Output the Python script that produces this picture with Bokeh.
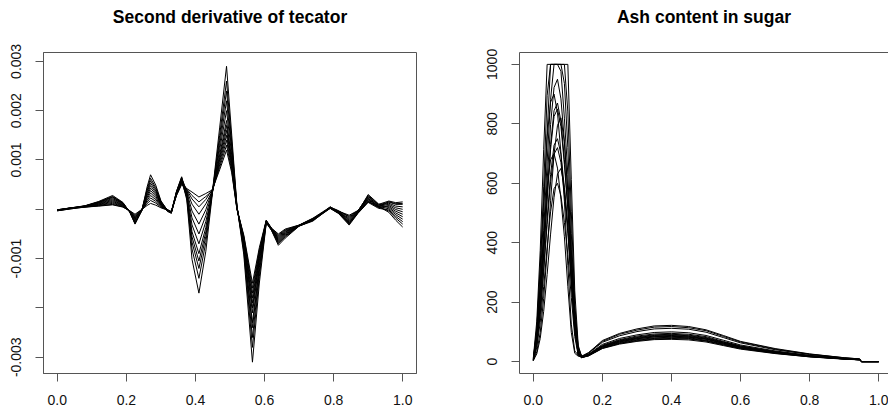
from bokeh.plotting import figure
from bokeh.layouts import row
from bokeh.models import FixedTicker, Range1d, LinearAxis, PrintfTickFormatter, Title
from bokeh.embed import file_html
from bokeh.resources import INLINE

FONT = "Liberation Sans"
BOX = "#555555"

# ---------------- data: second derivative of tecator (values in units of 1e-4) ----------------
tec_title = "Second derivative of tecator"
tec_scale = 1e-4
tec_x = [0.00, 0.04, 0.08, 0.12, 0.16, 0.19, 0.21, 0.225, 0.245, 0.26, 0.27, 0.285, 0.30, 0.32,
         0.33, 0.345, 0.36, 0.375, 0.39, 0.41, 0.43, 0.45, 0.47, 0.49, 0.505, 0.52, 0.54, 0.565,
         0.585, 0.605, 0.62, 0.64, 0.66, 0.70, 0.74, 0.79, 0.815, 0.845, 0.87, 0.90, 0.93, 0.96,
         0.98, 1.00]
tec_c01 = [-0.3, 0.1, 0.44, 0.65, 0.9, 0.45, -0.33, -1.2, -0.02, 0.78, 1.2, 0.84, 0.3, -0.2, -0.5, 2.75, 5.0, 4.2, 3.5, 2.5, 3.2, 4.0, 9.0, 14.0, 8.3, 0.3, -5.75, -17.0, -8.65, -2.3, -3.84, -5.2, -4.16, -3.22, -1.9, 0.34, -0.4, -1.2, -0.26, 2.2, 0.6, -0.62, -2.22, -3.6]
tec_c02 = [-0.2, 0.2, 0.66, 1.4, 2.4, 1.2, -0.53, -2.5, -0.15, 1.17, 1.8, 1.26, 0.45, -0.1, -0.6, 3.08, 5.6, 4.08, 2.8, 1.5, 2.6, 3.8, 13.0, 22.0, 11.9, 0.5, -7.5, -24.0, -11.8, -2.5, -4.0, -6.0, -4.8, -3.3, -2.1, 0.22, -0.7, -2.8, -0.74, 1.6, 0.4, 0.55, -0.4, -1.0]
tec_c03 = [-0.1, 0.2, 0.51, 0.9, 1.4, 0.7, -0.3, -1.0, 0.0, 1.5, 2.3, 1.61, 0.58, -0.3, -0.4, 2.86, 5.2, 3.96, 2.1, 0.5, 2.0, 4.2, 8.0, 12.0, 7.4, 0.1, -5.25, -15.0, -7.75, -2.2, -3.8, -5.0, -4.0, -3.2, -1.8, 0.46, -0.3, -1.6, -0.38, 2.8, 1.0, 1.68, 1.35, 1.5]
tec_c04 = [-0.2, 0.3, 0.72, 1.6, 2.8, 1.4, -0.59, -2.9, -0.19, 1.82, 2.8, 1.96, 0.7, -0.2, -0.7, 3.41, 6.2, 3.78, 1.05, -1.0, 1.1, 3.9, 11.0, 18.0, 10.1, 0.4, -6.75, -21.0, -10.45, -2.6, -4.16, -6.8, -5.44, -3.38, -2.3, 0.18, -0.9, -3.2, -0.86, 1.4, 0.2, -0.13, -1.45, -2.5]
tec_c05 = [-0.3, 0.1, 0.48, 0.8, 1.2, 0.6, -0.39, -1.6, -0.06, 2.15, 3.3, 2.31, 0.83, -0.4, -0.8, 2.97, 5.4, 3.54, -0.35, -3.0, -0.1, 4.1, 16.5, 29.0, 15.05, 0.8, -9.25, -31.0, -14.95, -2.8, -4.26, -7.3, -5.84, -3.43, -2.2, 0.4, -0.6, -2.0, -0.5, 2.5, 0.8, 1.23, 0.65, 0.5]
tec_c06 = [-0.1, 0.2, 0.6, 1.2, 2.0, 1.0, -0.48, -2.2, -0.12, 2.47, 3.8, 2.66, 0.95, -0.1, -0.5, 3.58, 6.5, 3.3, -1.75, -5.0, -1.3, 4.0, 10.0, 16.0, 9.2, 0.2, -6.25, -19.0, -9.55, -2.4, -3.92, -5.6, -4.48, -3.26, -2.0, 0.28, -0.6, -2.6, -0.68, 1.9, 0.5, -0.35, -1.8, -3.0]
tec_c07 = [-0.2, 0.3, 0.54, 1.0, 1.6, 0.8, -0.36, -1.4, -0.04, 2.8, 4.3, 3.01, 1.08, -0.3, -0.6, 3.19, 5.8, 3.06, -3.15, -7.0, -2.5, 3.7, 12.0, 20.0, 11.0, 0.6, -7.25, -23.0, -11.35, -2.5, -4.08, -6.4, -5.12, -3.34, -2.1, 0.42, -0.4, -1.4, -0.32, 2.6, 0.9, 1.45, 1.0, 1.0]
tec_c08 = [-0.3, 0.2, 0.69, 1.5, 2.6, 1.3, -0.6, -3.0, -0.2, 3.12, 4.8, 3.36, 1.2, -0.2, -0.7, 3.3, 6.0, 2.82, -4.55, -9.0, -3.7, 4.2, 8.5, 13.0, 7.85, 0.0, -5.5, -16.0, -8.2, -2.3, -3.88, -5.4, -4.32, -3.24, -1.9, 0.24, -0.8, -3.0, -0.8, 1.7, 0.4, 0.78, -0.05, -0.5]
tec_c09 = [-0.1, 0.3, 0.45, 0.7, 1.0, 0.5, -0.42, -1.8, -0.08, 3.45, 5.3, 3.71, 1.33, -0.5, -0.6, 3.47, 6.3, 2.64, -5.6, -10.5, -4.6, 3.9, 15.0, 26.0, 13.7, 0.7, -8.5, -28.0, -13.6, -2.7, -4.2, -7.0, -5.6, -3.4, -2.4, 0.36, -0.5, -2.2, -0.56, 2.3, 0.6, 0.1, -1.1, -2.0]
tec_c10 = [-0.2, 0.2, 0.63, 1.3, 2.2, 1.1, -0.54, -2.6, -0.16, 3.77, 5.8, 4.06, 1.45, -0.2, -0.5, 3.03, 5.5, 2.46, -6.65, -12.0, -5.5, 4.1, 10.5, 17.0, 9.65, 0.3, -6.5, -20.0, -10.0, -2.4, -3.96, -5.8, -4.64, -3.28, -2.0, 0.3, -0.5, -1.8, -0.44, 2.0, 0.7, 1.0, 0.3, 0.0]
tec_c11 = [-0.2, 0.3, 0.57, 1.1, 1.8, 0.9, -0.45, -2.0, -0.1, 4.1, 6.3, 4.41, 1.58, -0.3, -0.8, 3.63, 6.6, 2.22, -8.05, -14.0, -6.7, 4.0, 14.0, 24.0, 12.8, 0.5, -8.0, -26.0, -12.7, -2.6, -4.12, -6.6, -5.28, -3.36, -2.2, 0.5, -0.6, -2.4, -0.62, 3.0, 1.1, 0.33, -0.75, -1.5]
tec_c12 = [-0.1, 0.3, 0.68, 1.45, 2.5, 1.25, -0.57, -2.8, -0.18, 4.55, 7.0, 4.9, 1.75, -0.4, -0.7, 3.36, 6.1, 1.86, -10.15, -17.0, -8.5, 3.8, 9.5, 15.0, 8.75, 0.2, -6.0, -18.0, -9.1, -2.4, -4.04, -6.2, -4.96, -3.32, -2.1, 0.2, -0.8, -2.9, -0.77, 1.5, 0.5, 1.54, 1.14, 1.2]
tec_curves = [tec_c01, tec_c02, tec_c03, tec_c04, tec_c05, tec_c06,
              tec_c07, tec_c08, tec_c09, tec_c10, tec_c11, tec_c12]
tec_xticks = [0.0, 0.2, 0.4, 0.6, 0.8, 1.0]
tec_yticks_labelled = [-0.003, -0.001, 0.001, 0.002, 0.003]
tec_yticks_unlabelled = [-0.002, 0.0]

# ---------------- data: ash content in sugar ----------------
ash_title = "Ash content in sugar"
ash_x = [0.00, 0.01, 0.02, 0.03, 0.04, 0.05, 0.06, 0.07, 0.08, 0.09, 0.10, 0.11, 0.12, 0.13,
         0.14, 0.16, 0.20, 0.25, 0.30, 0.35, 0.40, 0.45, 0.50, 0.55, 0.60, 0.70, 0.80, 0.90,
         0.945, 0.95, 1.00]
ash_c01 = [12, 136, 374, 714, 1000, 1000, 1000, 1000, 1000, 1000, 1000, 612, 238, 55, 16, 24, 55, 74, 86, 93, 95, 92, 84, 68, 53, 34, 20, 10, 7, 0, 0]
ash_c02 = [10, 112, 308, 588, 896, 1000, 1000, 1000, 1000, 1000, 840, 504, 196, 45, 18, 30, 71, 95, 110, 120, 122, 118, 107, 88, 68, 44, 26, 13, 9, 0, 0]
ash_c03 = [8, 96, 264, 504, 768, 1000, 1000, 1000, 1000, 936, 720, 432, 168, 38, 15, 21, 49, 66, 77, 83, 85, 82, 75, 61, 48, 31, 18, 9, 6, 0, 0]
ash_c04 = [7, 84, 231, 441, 672, 882, 1000, 1000, 977, 819, 630, 378, 147, 34, 17, 25, 58, 78, 90, 98, 100, 97, 88, 72, 56, 36, 21, 11, 8, 0, 0]
ash_c05 = [6, 76, 209, 399, 608, 798, 922, 950, 884, 741, 570, 342, 133, 30, 14, 20, 46, 62, 72, 78, 80, 78, 70, 58, 45, 29, 17, 9, 6, 0, 0]
ash_c06 = [8, 108, 324, 540, 756, 873, 900, 837, 702, 540, 324, 126, 36, 22, 15, 28, 65, 87, 101, 110, 112, 109, 99, 81, 63, 40, 24, 12, 8, 0, 0]
ash_c07 = [5, 70, 191, 365, 557, 731, 844, 870, 809, 679, 522, 313, 122, 28, 16, 23, 52, 70, 81, 88, 90, 87, 79, 65, 50, 32, 19, 10, 7, 0, 0]
ash_c08 = [5, 68, 187, 357, 544, 714, 825, 850, 791, 663, 510, 306, 119, 27, 13, 20, 45, 61, 70, 76, 78, 76, 69, 56, 44, 28, 16, 9, 6, 0, 0]
ash_c09 = [5, 33, 98, 213, 369, 541, 697, 795, 820, 738, 574, 361, 164, 49, 17, 22, 51, 69, 79, 86, 88, 85, 77, 63, 49, 32, 18, 10, 7, 0, 0]
ash_c10 = [4, 60, 165, 315, 480, 630, 728, 750, 698, 585, 450, 270, 105, 24, 14, 19, 44, 59, 68, 74, 75, 73, 66, 54, 42, 27, 16, 8, 6, 0, 0]
ash_c11 = [4, 58, 158, 302, 461, 605, 698, 720, 670, 562, 432, 259, 101, 23, 15, 23, 53, 72, 83, 90, 92, 89, 81, 66, 52, 33, 19, 10, 7, 0, 0]
ash_c12 = [6, 84, 252, 420, 588, 679, 700, 651, 546, 420, 252, 98, 28, 18, 16, 21, 48, 64, 74, 80, 82, 80, 72, 59, 46, 30, 17, 9, 6, 0, 0]
ash_c13 = [4, 26, 78, 169, 293, 429, 553, 631, 650, 585, 455, 286, 130, 39, 18, 30, 68, 92, 106, 116, 118, 114, 104, 85, 66, 42, 25, 13, 9, 0, 0]
ash_c14 = [3, 48, 132, 252, 384, 504, 582, 600, 558, 468, 360, 216, 84, 21, 13, 22, 50, 67, 77, 84, 86, 83, 76, 62, 48, 31, 18, 9, 6, 0, 0]
ash_curves = [ash_c01, ash_c02, ash_c03, ash_c04, ash_c05, ash_c06, ash_c07,
              ash_c08, ash_c09, ash_c10, ash_c11, ash_c12, ash_c13, ash_c14]
ash_xticks = [0.0, 0.2, 0.4, 0.6, 0.8, 1.0]
ash_yticks = [0, 200, 400, 600, 800, 1000]


def style_axis(ax, vertical=False):
    ax.axis_line_color = BOX
    ax.axis_line_width = 1
    ax.major_tick_line_color = BOX
    ax.minor_tick_line_color = BOX
    ax.major_tick_out = 8
    ax.major_tick_in = 0
    ax.minor_tick_out = 8
    ax.minor_tick_in = 0
    ax.major_label_text_font = FONT
    ax.major_label_text_font_size = "14px"
    ax.major_label_text_color = "#111111"
    ax.major_label_standoff = 13 if not vertical else 14
    if vertical:
        ax.major_label_orientation = "vertical"


def make_title(text, offset=0):
    return Title(text=text, text_font=FONT, text_font_size="17.5px",
                 text_font_style="bold", text_color="black", align="center",
                 standoff=3, offset=offset)


def top_edge(line_color):
    # axis along the top of the frame with one invisible, unlabelled tick whose
    # length makes the gap between the frame and the title
    return LinearAxis(ticker=FixedTicker(ticks=[0.5], minor_ticks=[]),
                      formatter=PrintfTickFormatter(format=""),
                      axis_line_color=line_color, major_tick_line_color=None,
                      major_tick_out=24, minor_tick_out=0, major_tick_in=0,
                      minor_tick_in=0, major_label_standoff=0,
                      major_label_text_font_size="1px")


# ---------------- left panel ----------------
p1 = figure(width=444, height=408,
            x_range=Range1d(-0.04, 1.04), y_range=Range1d(-0.00333, 0.00318),
            output_backend="svg", toolbar_location=None,
            min_border_left=43, min_border_right=28, min_border_top=52, min_border_bottom=35)
p1.grid.visible = False
p1.outline_line_color = BOX
p1.outline_line_width = 1
p1.outline_line_alpha = 1
p1.background_fill_color = "white"
p1.border_fill_color = "white"
p1.multi_line(xs=[tec_x for _ in tec_curves],
              ys=[[v * tec_scale for v in c] for c in tec_curves],
              line_color="black", line_width=1)
style_axis(p1.xaxis[0])
p1.xaxis[0].ticker = FixedTicker(ticks=tec_xticks, minor_ticks=[])
p1.xaxis[0].formatter = PrintfTickFormatter(format="%.1f")
style_axis(p1.yaxis[0], vertical=True)
p1.yaxis[0].ticker = FixedTicker(ticks=tec_yticks_labelled, minor_ticks=tec_yticks_unlabelled)
p1.yaxis[0].formatter = PrintfTickFormatter(format="%.3f")
p1.add_layout(top_edge(None), "above")
p1.add_layout(make_title(tec_title), "above")

# ---------------- right panel (its right edge is cut off by the window) ----------------
p2 = figure(width=444, height=408,
            x_range=Range1d(-0.04, 1.0283), y_range=Range1d(-40, 1040),
            output_backend="svg", toolbar_location=None,
            min_border_left=75, min_border_right=0, min_border_top=52, min_border_bottom=35)
p2.grid.visible = False
p2.outline_line_color = None
p2.background_fill_color = "white"
p2.border_fill_color = "white"
p2.multi_line(xs=[ash_x for _ in ash_curves], ys=ash_curves,
              line_color="black", line_width=1)
style_axis(p2.xaxis[0])
p2.xaxis[0].ticker = FixedTicker(ticks=ash_xticks, minor_ticks=[])
p2.xaxis[0].formatter = PrintfTickFormatter(format="%.1f")
style_axis(p2.yaxis[0], vertical=True)
p2.yaxis[0].ticker = FixedTicker(ticks=ash_yticks, minor_ticks=[])
p2.add_layout(top_edge(BOX), "above")
p2.add_layout(make_title(ash_title, offset=2), "above")

layout = row(p1, p2)
open("out.html", "w").write(file_html(layout, INLINE))
